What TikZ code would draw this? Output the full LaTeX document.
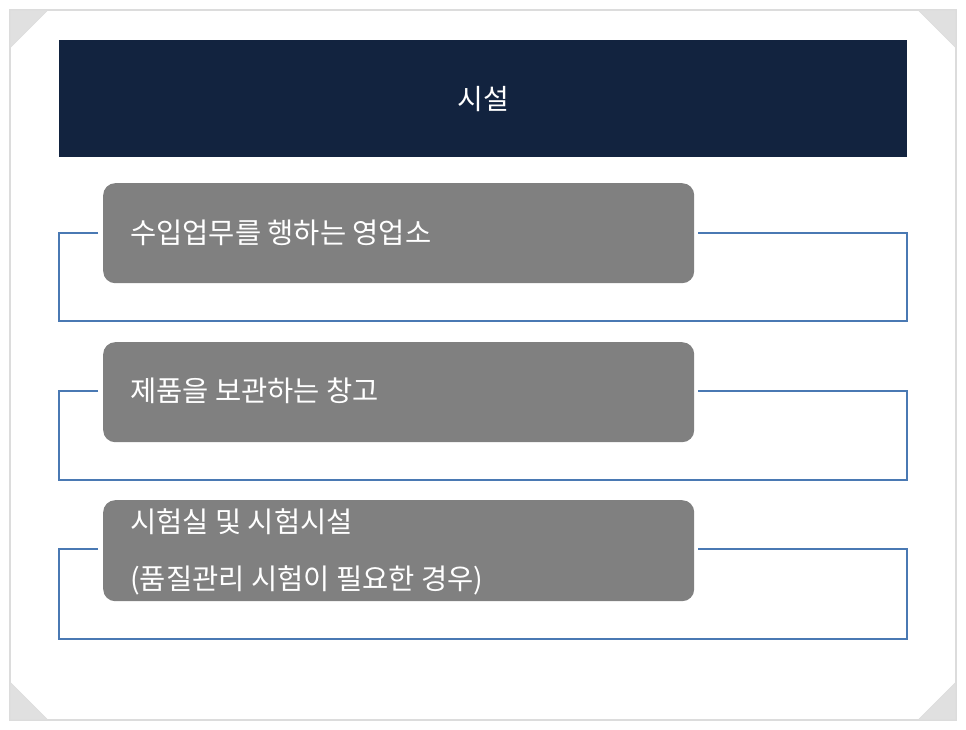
\documentclass[tikz,border=0pt]{standalone}
\usepackage{fontspec}
\newfontfamily\kr{Noto Sans CJK KR}
\definecolor{navy}{HTML}{12233F}
\definecolor{boxgray}{HTML}{808080}
\definecolor{lineblue}{HTML}{4A79B3}
\definecolor{framegray}{HTML}{DCDCDC}
\definecolor{trigray}{HTML}{E0E0E0}
\begin{document}
\begin{tikzpicture}[x=1pt,y=-1pt,
  itembox/.style={fill=boxgray,rounded corners=12pt,minimum width=591pt,anchor=north west,inner sep=0pt},
  itemtext/.style={text=white,font=\kr\fontsize{28.5}{34}\selectfont,anchor=west,inner sep=0pt},
  bracket/.style={draw=lineblue,line width=1.8pt},
  corner/.style={fill=trigray,draw=framegray,line width=0.6pt}]
\useasboundingbox (0,0) rectangle (966,730);
\fill[white] (0,0) rectangle (966,730);
% frame
\draw[framegray,line width=1.2pt] (10,10) rectangle (956,720);
\filldraw[corner] (10,10) -- (48,10) -- (10,48) -- cycle;
\filldraw[corner] (956,10) -- (918,10) -- (956,48) -- cycle;
\filldraw[corner] (10,720) -- (10,682) -- (48,720) -- cycle;
\filldraw[corner] (956,720) -- (956,682) -- (918,720) -- cycle;
% header
\node[fill=navy,minimum width=848pt,minimum height=117pt,inner sep=0pt,anchor=north west] (head) at (59,40) {};
\node[text=white,font=\kr\fontsize{28}{34}\selectfont,inner sep=0pt] (title) at (483,99) {시설};
% boxes
\node[itembox,minimum height=100pt] (b1) at (103,183) {};
\node[itembox,minimum height=100pt] (b2) at (103,342) {};
\node[itembox,minimum height=101pt] (b3) at (103,500) {};
\node[itemtext] (t1) at (130,233) {수입업무를 행하는 영업소};
\node[itemtext] (t2) at (130,391) {제품을 보관하는 창고};
\node[itemtext] (t3a) at (130,522) {시험실 및 시험시설};
\node[itemtext] (t3b) at (130,580) {(품질관리 시험이 필요한 경우)};
% brackets
\coordinate (l1) at (98,233); \coordinate (r1) at (698,233);
\coordinate (l2) at (98,391); \coordinate (r2) at (698,391);
\coordinate (l3) at (98,549); \coordinate (r3) at (698,549);
\draw[bracket] (l1) -- (59,233) -- (59,321) -- (907,321) -- (907,233) -- (r1);
\draw[bracket] (l2) -- (59,391) -- (59,480) -- (907,480) -- (907,391) -- (r2);
\draw[bracket] (l3) -- (59,549) -- (59,639) -- (907,639) -- (907,549) -- (r3);
\end{tikzpicture}
\end{document}
